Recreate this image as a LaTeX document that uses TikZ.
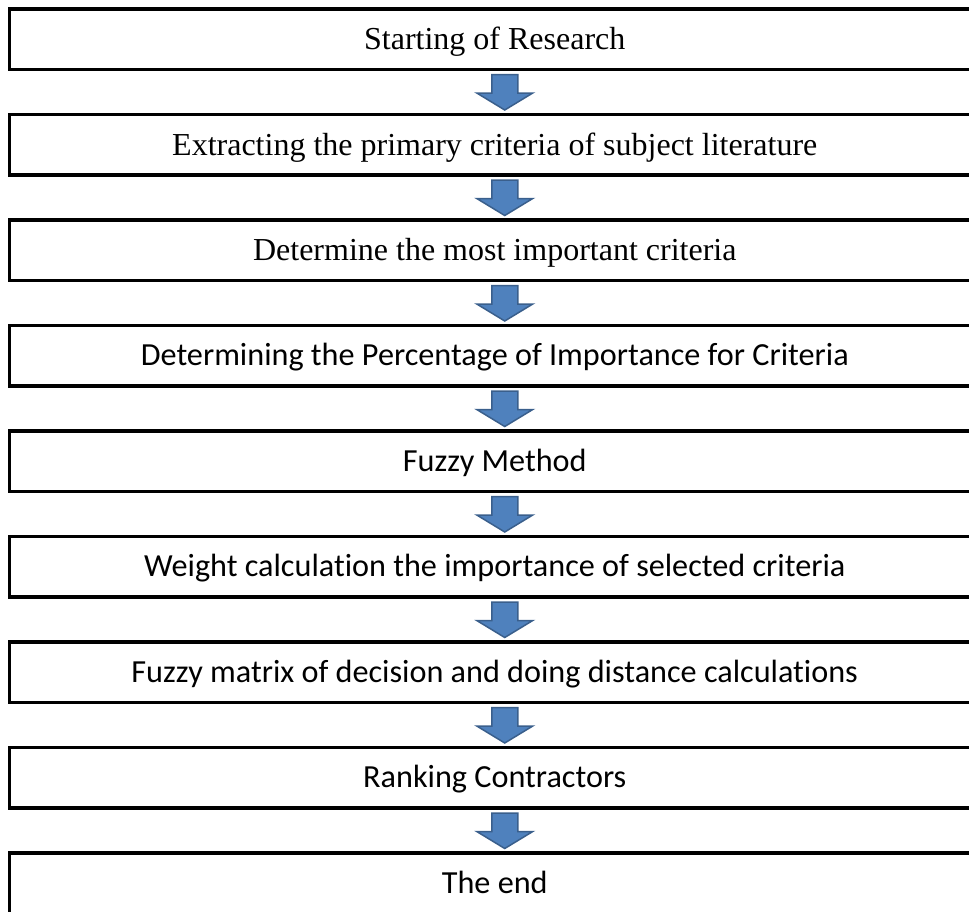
\documentclass[tikz,border=0pt]{standalone}
\usepackage{fontspec}
\setmainfont{Liberation Serif}
\newfontfamily\calib[Ligatures=NoCommon]{Carlito}
\usetikzlibrary{calc}
\definecolor{arrowfill}{HTML}{4F81BD}
\definecolor{arrowline}{HTML}{3A5F8C}
\begin{document}
\begin{tikzpicture}[x=1pt,y=-1pt,
  stage/.style={draw=black, line width=3.5pt, rectangle, minimum width=970.5pt, minimum height=60.5pt, inner sep=0pt, anchor=center},
  serifstage/.style={stage, font=\fontsize{32}{38}\selectfont, text height=21pt, text depth=0pt},
  sansstage/.style={stage, font=\calib\fontsize{32.2}{38}\selectfont, text height=20.6pt, text depth=0pt},
  blockarrow/.style={fill=arrowfill, draw=arrowline, line width=1.5pt, line join=miter}]
\useasboundingbox (0,0) rectangle (969,911);
\node[serifstage] (b1) at (494.75,39) {Starting of Research};
\node[serifstage] (b2) at (494.75,144.5) {Extracting the primary criteria of subject literature};
\node[serifstage] (b3) at (494.75,250) {Determine the most important criteria};
\node[sansstage] (b4) at (494.75,355.5) {Determining the Percentage of Importance for Criteria};
\node[sansstage] (b5) at (494.75,461) {Fuzzy Method};
\node[sansstage] (b6) at (494.75,566.5) {Weight calculation the importance of selected criteria};
\node[sansstage] (b7) at (494.75,672) {Fuzzy matrix of decision and doing distance calculations};
\node[sansstage] (b8) at (494.75,777.5) {Ranking Contractors};
\node[sansstage] (b9) at (494.75,883) {The end};
\foreach \a/\b in {b1/b2,b2/b3,b3/b4,b4/b5,b5/b6,b6/b7,b7/b8,b8/b9}{
  \path[blockarrow] let \p1=($(\a.south)+(10,3.5)$), \p2=($(\b.north)+(10,-2.5)$) in
    ({\x1-13pt},\y1) -- ({\x1+13pt},\y1) -- ({\x1+13pt},{\y2+17pt}) -- ({\x1+28pt},{\y2+17pt})
    -- (\x1,\y2) -- ({\x1-28pt},{\y2+17pt}) -- ({\x1-13pt},{\y2+17pt}) -- cycle;
}
\end{tikzpicture}
\end{document}
